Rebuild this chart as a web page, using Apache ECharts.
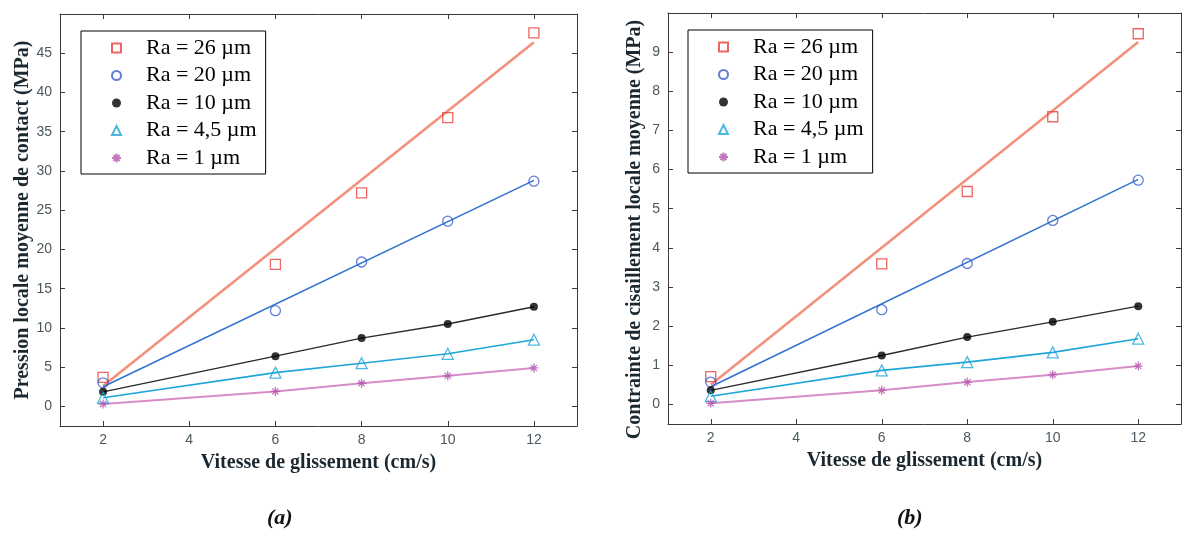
<!DOCTYPE html>
<html>
<head>
<meta charset="utf-8">
<script src="https://cdn.jsdelivr.net/npm/echarts@6/dist/echarts.min.js"></script>
<style>
  html, body { margin: 0; padding: 0; background: #ffffff; }
  #chart { width: 1184px; height: 534px; }
</style>
</head>
<body>
<div id="chart"></div>
<script>
// ---- data ----
const xValues = [2, 6, 8, 10, 12];
const fitX = [2, 12];
const seriesNames = ['Ra = 26 µm', 'Ra = 20 µm', 'Ra = 10 µm', 'Ra = 4,5 µm', 'Ra = 1 µm'];
const xTicks = [2, 4, 6, 8, 10, 12];
const yTicksA = [0, 5, 10, 15, 20, 25, 30, 35, 40, 45];
const yTicksB = [0, 1, 2, 3, 4, 5, 6, 7, 8, 9];

// (a) Pression locale moyenne de contact (MPa)
const a26 = [3.7, 18.1, 27.2, 36.8, 47.6];
const a20 = [3.0, 12.2, 18.4, 23.6, 28.7];
const a10 = [1.85, 6.4, 8.7, 10.5, 12.7];
const a45 = [1.1, 4.3, 5.5, 6.7, 8.5];
const a1  = [0.3, 1.9, 2.95, 3.9, 4.9];
const a26fit = [2.6, 46.4];
const a20fit = [2.5, 28.8];

// (b) Contrainte de cisaillement locale moyenne (MPa)
const b26 = [0.71, 3.59, 5.44, 7.35, 9.47];
const b20 = [0.57, 2.42, 3.60, 4.70, 5.73];
const b10 = [0.36, 1.25, 1.72, 2.11, 2.51];
const b45 = [0.21, 0.87, 1.08, 1.33, 1.68];
const b1  = [0.03, 0.36, 0.57, 0.76, 0.98];
const b26fit = [0.5, 9.26];
const b20fit = [0.45, 5.75];

// ---- styles ----
const markerStyles = [
  { symbol: 'rect', size: 10, color: '#e8403a', hollow: true, line: '#f4917c', lw: 2.6 },
  { symbol: 'circle', size: 10, color: '#3a5ccc', hollow: true, line: '#3272d2', lw: 1.6 },
  { symbol: 'circle', size: 8, color: '#000000', hollow: false, line: '#2a2a2a', lw: 1.4 },
  { symbol: 'triangle', size: 11, color: '#1fa6d8', hollow: true, line: '#1fa6d8', lw: 1.6 },
  { symbol: 'path://M5 0 L5 10 M0 5 L10 5 M1.6 1.6 L8.4 8.4 M8.4 1.6 L1.6 8.4', size: 9, color: '#b455ac', hollow: true, line: '#d68cc8', lw: 2 }
];

const axisColor = '#3a3a3a';
const tickLabelStyle = { color: '#4a5860', fontFamily: 'Liberation Sans', fontSize: 14 };
const titleFont = { color: '#1c2830', fontFamily: 'Liberation Serif', fontWeight: 'bold', fontSize: 20 };

function pairs(xs, ys) { return xs.map((x, i) => [x, ys[i]]); }

function xAxisDef(gridIndex, position, showLabel, name) {
  return {
    type: 'value', gridIndex: gridIndex, position: position, min: 1, max: 13,
    splitLine: { show: false },
    axisLine: { show: true, onZero: false, lineStyle: { color: axisColor, width: 1 } },
    axisTick: { show: true, inside: true, length: 5, customValues: xTicks, lineStyle: { color: axisColor } },
    axisLabel: Object.assign({ show: showLabel, customValues: xTicks, margin: 7 }, tickLabelStyle),
    name: name || '', nameLocation: 'middle', nameGap: 27, nameTextStyle: titleFont
  };
}
function yAxisDef(gridIndex, position, showLabel, min, max, ticks, name, gap, pad) {
  return {
    type: 'value', gridIndex: gridIndex, position: position, min: min, max: max,
    splitLine: { show: false },
    axisLine: { show: true, onZero: false, lineStyle: { color: axisColor, width: 1 } },
    axisTick: { show: true, inside: true, length: 5, customValues: ticks, lineStyle: { color: axisColor } },
    axisLabel: Object.assign({ show: showLabel, customValues: ticks, margin: 8 }, tickLabelStyle),
    name: name || '', nameLocation: 'middle', nameGap: gap || 30, nameRotate: 90,
    nameTextStyle: Object.assign({}, titleFont, { padding: pad || 0 })
  };
}

function buildSeries(gridIdx, pts, fits) {
  const out = [];
  const xi = gridIdx * 2, yi = gridIdx * 2;
  pts.forEach((ys, k) => {
    const st = markerStyles[k];
    const lineData = fits[k] ? pairs(fitX, fits[k]) : pairs(xValues, ys);
    out.push({
      type: 'line', name: 'line' + gridIdx + '_' + k, xAxisIndex: xi, yAxisIndex: yi,
      data: lineData, symbol: 'none', silent: true, z: 2,
      lineStyle: { color: st.line, width: st.lw }, animation: false
    });
  });
  pts.forEach((ys, k) => {
    const st = markerStyles[k];
    out.push({
      type: 'scatter', name: seriesNames[k], xAxisIndex: xi, yAxisIndex: yi,
      data: pairs(xValues, ys), symbol: st.symbol, symbolSize: st.size, z: 3,
      itemStyle: st.hollow
        ? { color: 'rgba(255,255,255,0)', borderColor: st.color, borderWidth: 1.3 }
        : { color: st.color, borderColor: st.color, borderWidth: 0 },
      animation: false
    });
  });
  return out;
}

const legendCommon = {
  orient: 'vertical', data: seriesNames, itemWidth: 9, itemHeight: 9, itemGap: 5.5,
  padding: [6, 9, 5, 30], borderColor: '#000', borderWidth: 1, backgroundColor: '#fff',
  selectedMode: false,
  textStyle: { fontFamily: 'Liberation Serif', fontSize: 22, color: '#000', lineHeight: 22, padding: [0, 0, 0, 20] }
};

const captionStyle = { fontFamily: 'Liberation Serif', fontStyle: 'italic', fontWeight: 'bold', fontSize: 22, color: '#111' };

const option = {
  backgroundColor: '#ffffff',
  animation: false,
  title: [
    { text: '(a)', left: 267, top: 507, padding: 0, textStyle: captionStyle },
    { text: '(b)', left: 897, top: 507, padding: 0, textStyle: captionStyle }
  ],
  grid: [
    { left: 60, top: 14, width: 517, height: 412, containLabel: false },
    { left: 668, top: 13, width: 513, height: 411, containLabel: false }
  ],
  legend: [
    Object.assign({ left: 81, top: 31 }, legendCommon),
    Object.assign({ left: 688, top: 30 }, legendCommon)
  ],
  xAxis: [
    xAxisDef(0, 'bottom', true, 'Vitesse de glissement (cm/s)'),
    xAxisDef(0, 'top', false),
    xAxisDef(1, 'bottom', true, 'Vitesse de glissement (cm/s)'),
    xAxisDef(1, 'top', false)
  ],
  yAxis: [
    yAxisDef(0, 'left', true, -2.5, 50, yTicksA, 'Pression locale moyenne de contact (MPa)', 27, 0),
    yAxisDef(0, 'right', false, -2.5, 50, yTicksA),
    yAxisDef(1, 'left', true, -0.5, 10, yTicksB, 'Contrainte de cisaillement locale moyenne (MPa)', 23, [0, 22, 0, 0]),
    yAxisDef(1, 'right', false, -0.5, 10, yTicksB)
  ],
  series: [].concat(
    buildSeries(0, [a26, a20, a10, a45, a1], [a26fit, a20fit, null, null, null]),
    buildSeries(1, [b26, b20, b10, b45, b1], [b26fit, b20fit, null, null, null])
  )
};

const chart = echarts.init(document.getElementById('chart'), null, { renderer: 'canvas' });
chart.setOption(option);
</script>
</body>
</html>
